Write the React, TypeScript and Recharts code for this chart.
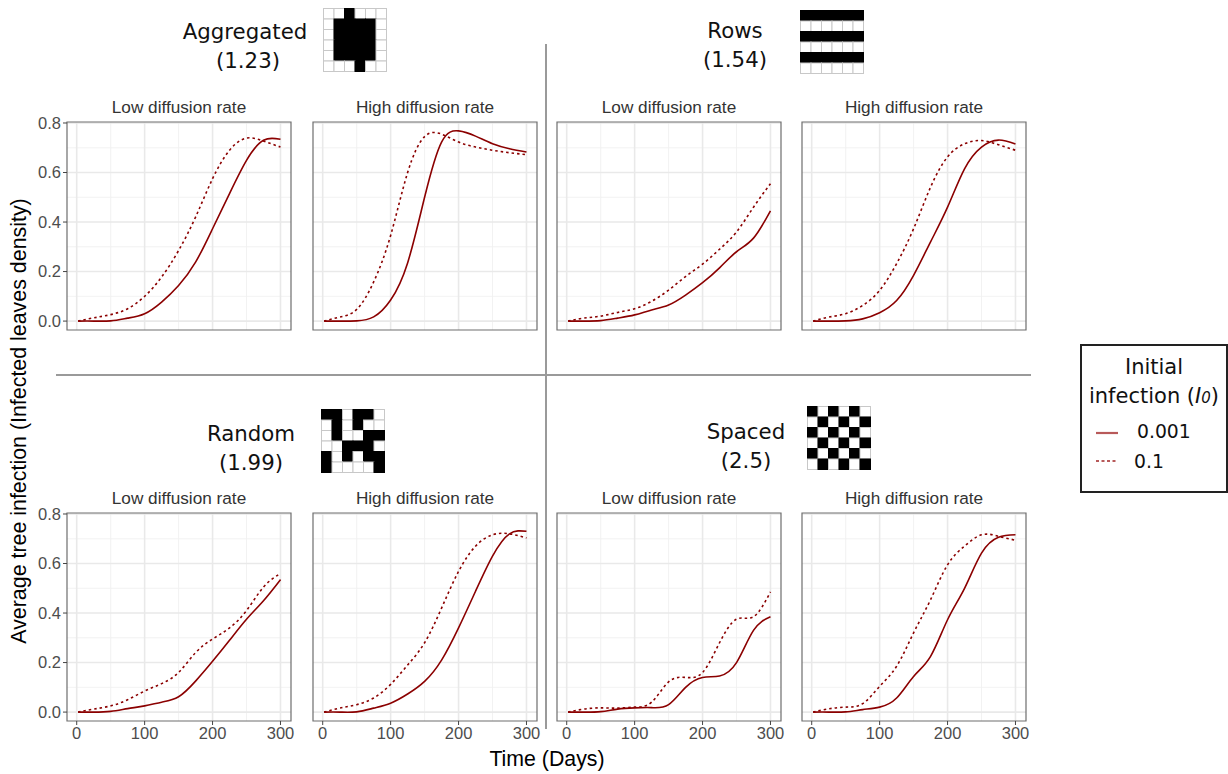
import { CartesianGrid, Line, LineChart, ReferenceArea, XAxis, YAxis } from 'recharts'

const days = [2, 25, 50, 75, 100, 125, 150, 175, 200, 225, 250, 275, 300]
const xTicks = [0, 100, 200, 300]
const yTicks = [0, 0.2, 0.4, 0.6, 0.8]
const xMinor = [50, 150, 250]
const yMinor = [0.1, 0.3, 0.5, 0.7]

const aggLowSolid = [0, 0, 0.001, 0.012, 0.03, 0.077, 0.144, 0.238, 0.373, 0.515, 0.649, 0.73, 0.734]
const aggLowDash = [0, 0.013, 0.026, 0.05, 0.1, 0.178, 0.285, 0.42, 0.575, 0.69, 0.739, 0.727, 0.703]
const aggHighSolid = [0, 0, 0.001, 0.017, 0.085, 0.235, 0.5, 0.723, 0.768, 0.747, 0.716, 0.696, 0.683]
const aggHighDash = [0, 0.016, 0.047, 0.158, 0.346, 0.6, 0.745, 0.755, 0.723, 0.703, 0.69, 0.68, 0.672]

const rowsLowSolid = [0, 0, 0.002, 0.012, 0.025, 0.045, 0.065, 0.105, 0.155, 0.215, 0.28, 0.335, 0.445]
const rowsLowDash = [0, 0.012, 0.02, 0.035, 0.05, 0.08, 0.125, 0.18, 0.23, 0.29, 0.36, 0.46, 0.555]
const rowsHighSolid = [0, 0, 0.001, 0.009, 0.034, 0.083, 0.185, 0.32, 0.46, 0.615, 0.703, 0.731, 0.715]
const rowsHighDash = [0, 0.016, 0.03, 0.063, 0.124, 0.232, 0.373, 0.541, 0.663, 0.716, 0.729, 0.712, 0.69]

const randLowSolid = [0, 0, 0.003, 0.014, 0.025, 0.04, 0.062, 0.125, 0.205, 0.29, 0.375, 0.45, 0.535]
const randLowDash = [0, 0.012, 0.025, 0.05, 0.085, 0.115, 0.16, 0.24, 0.295, 0.34, 0.41, 0.505, 0.56]
const randHighSolid = [0, 0, 0.001, 0.016, 0.036, 0.073, 0.124, 0.21, 0.34, 0.488, 0.63, 0.72, 0.73]
const randHighDash = [0, 0.016, 0.03, 0.057, 0.112, 0.19, 0.28, 0.42, 0.568, 0.67, 0.716, 0.72, 0.703]

const spacedLowSolid = [0, 0, 0.002, 0.012, 0.017, 0.018, 0.03, 0.1, 0.14, 0.146, 0.2, 0.33, 0.385]
const spacedLowDash = [0, 0.012, 0.017, 0.016, 0.02, 0.04, 0.122, 0.14, 0.16, 0.28, 0.375, 0.385, 0.485]
const spacedHighSolid = [0, 0, 0.001, 0.01, 0.02, 0.057, 0.144, 0.225, 0.373, 0.5, 0.642, 0.706, 0.716]
const spacedHighDash = [0, 0.013, 0.02, 0.034, 0.104, 0.185, 0.32, 0.454, 0.595, 0.67, 0.716, 0.71, 0.694]

const aggPattern = ['001000', '011110', '011110', '011110', '011110', '000100']
const rowsPattern = ['111111', '000000', '111111', '000000', '111111', '000000']
const randPattern = ['110110', '010100', '010011', '001110', '101011', '100001']
const spacedPattern = ['101010', '010101', '101010', '010101', '101010', '010101']

const DARK_RED = '#8b0000'
const SANS = '"Liberation Sans", Arial, sans-serif'
const DEJAVU = '"DejaVu Sans", sans-serif'
const PW = 224
const PH = 208
const ML = 44
const MT = 12
const MB = 34

const xDomain = [-14.3, 315.5]
const yDomain = [-0.036, 0.804]

function Panel({ left, top, title, solid, dash, showX, showY }: {
  left: number
  top: number
  title: string
  solid: number[]
  dash: number[]
  showX: boolean
  showY: boolean
}) {
  const data = days.map((d, i) => ({ day: d, solid: solid[i], dash: dash[i] }))
  return (
    <>
      <div style={{ position: 'absolute', left, top: top - 24, width: PW, textAlign: 'center', fontFamily: SANS, fontSize: 17.2, lineHeight: '19px', color: '#333', whiteSpace: 'nowrap' }}>
        {title}
      </div>
      <div style={{ position: 'absolute', left: left - ML, top: top - MT }}>
        <LineChart
          width={PW + ML + 12}
          height={PH + MT + MB}
          data={data}
          margin={{ top: MT, right: 12, bottom: showX ? 0 : MB, left: showY ? 0 : ML }}
        >
          <CartesianGrid verticalValues={xMinor} horizontalValues={yMinor} stroke="#f0f0f0" strokeWidth={0.9} />
          <CartesianGrid verticalValues={xTicks} horizontalValues={yTicks} stroke="#e9e9e9" strokeWidth={1.6} />
          <XAxis
            dataKey="day"
            type="number"
            domain={xDomain}
            ticks={xTicks}
            interval={0}
            allowDataOverflow
            hide={!showX}
            height={MB}
            axisLine={false}
            tickSize={4}
            tickLine={{ stroke: '#444' }}
            tick={{ fontFamily: SANS, fontSize: 16.5, fill: '#4d4d4d' }}
          />
          <YAxis
            type="number"
            domain={yDomain}
            ticks={yTicks}
            interval={0}
            allowDataOverflow
            hide={!showY}
            width={ML}
            axisLine={false}
            tickSize={4}
            tickLine={{ stroke: '#444' }}
            tickFormatter={(v: number) => v.toFixed(1)}
            tick={{ fontFamily: SANS, fontSize: 16.5, fill: '#4d4d4d' }}
          />
          <ReferenceArea
            x1={xDomain[0]}
            x2={xDomain[1]}
            y1={yDomain[0]}
            y2={yDomain[1]}
            fill="none"
            stroke="#6e6e6e"
            strokeWidth={1.2}
            fillOpacity={0}
          />
          <Line dataKey="dash" type="natural" stroke={DARK_RED} strokeWidth={1.6} strokeDasharray="2.5 3" dot={false} isAnimationActive={false} />
          <Line dataKey="solid" type="natural" stroke={DARK_RED} strokeWidth={1.6} dot={false} isAnimationActive={false} />
        </LineChart>
      </div>
    </>
  )
}

function Pattern({ left, top, cells }: { left: number; top: number; cells: string[] }) {
  return (
    <svg style={{ position: 'absolute', left, top }} width={65} height={65}>
      {cells.map((row, r) =>
        row.split('').map((c, k) => (
          <rect
            key={`${r}-${k}`}
            x={0.5 + k * 10.5}
            y={0.5 + r * 10.5}
            width={10.5}
            height={10.5}
            fill={c === '1' ? '#000' : '#fff'}
            stroke={c === '1' ? '#000' : '#c8c8c8'}
            strokeWidth={1}
          />
        )),
      )}
    </svg>
  )
}

function Heading({ cx, top, name, value, shift = 0 }: { cx: number; top: number; name: string; value: string; shift?: number }) {
  return (
    <div style={{ position: 'absolute', left: cx - 100, top, width: 200, textAlign: 'center', fontFamily: DEJAVU, fontSize: 21.3, lineHeight: '29px', color: '#111' }}>
      {name}
      <br />
      <span style={{ position: 'relative', left: shift }}>{value}</span>
    </div>
  )
}

const LOW = 'Low diffusion rate'
const HIGH = 'High diffusion rate'

export default function App() {
  return (
    <div style={{ position: 'absolute', left: 0, top: 0, width: 1228, height: 774, background: '#fff', overflow: 'hidden' }}>
      <Heading cx={245} top={17} name="Aggregated" value="(1.23)" shift={3} />
      <Heading cx={735} top={16} name="Rows" value="(1.54)" />
      <Heading cx={251} top={419} name="Random" value="(1.99)" />
      <Heading cx={746} top={417} name="Spaced" value="(2.5)" />
      <Pattern left={323} top={8} cells={aggPattern} />
      <Pattern left={800} top={10} cells={rowsPattern} />
      <Pattern left={321} top={409} cells={randPattern} />
      <Pattern left={807} top={406} cells={spacedPattern} />

      <Panel left={67} top={122} title={LOW} solid={aggLowSolid} dash={aggLowDash} showX={false} showY />
      <Panel left={313} top={122} title={HIGH} solid={aggHighSolid} dash={aggHighDash} showX={false} showY={false} />
      <Panel left={557} top={122} title={LOW} solid={rowsLowSolid} dash={rowsLowDash} showX={false} showY={false} />
      <Panel left={802} top={122} title={HIGH} solid={rowsHighSolid} dash={rowsHighDash} showX={false} showY={false} />
      <Panel left={67} top={513} title={LOW} solid={randLowSolid} dash={randLowDash} showX showY />
      <Panel left={313} top={513} title={HIGH} solid={randHighSolid} dash={randHighDash} showX showY={false} />
      <Panel left={557} top={513} title={LOW} solid={spacedLowSolid} dash={spacedLowDash} showX showY={false} />
      <Panel left={802} top={513} title={HIGH} solid={spacedHighSolid} dash={spacedHighDash} showX showY={false} />

      <div style={{ position: 'absolute', left: 545, top: 44, width: 2, height: 685, background: '#9a9a9a' }} />
      <div style={{ position: 'absolute', left: 56, top: 374, width: 975, height: 2, background: '#9a9a9a' }} />

      <div style={{ position: 'absolute', left: 19, top: 421, width: 0, height: 0 }}>
        <div style={{ position: 'absolute', width: 500, left: -250, top: -12, textAlign: 'center', transform: 'rotate(-90deg)', fontFamily: SANS, fontSize: 21.4, lineHeight: '24px', color: '#000', whiteSpace: 'nowrap' }}>
          Average tree infection (Infected leaves density)
        </div>
      </div>
      <div style={{ position: 'absolute', left: 447, top: 747, width: 200, textAlign: 'center', fontFamily: SANS, fontSize: 21.3, lineHeight: '24px', color: '#000' }}>
        Time (Days)
      </div>

      <div style={{ position: 'absolute', left: 1080, top: 344, width: 144, height: 145, border: '2px solid #222', background: '#fff', fontFamily: DEJAVU, fontSize: 21, color: '#111' }}>
        <div style={{ position: 'absolute', top: 9, width: '100%', textAlign: 'center' }}>Initial</div>
        <div style={{ position: 'absolute', top: 38, width: '100%', textAlign: 'center', whiteSpace: 'nowrap' }}>
          infection (<i>I</i><i style={{ fontSize: 15 }}>0</i>)
        </div>
        <svg style={{ position: 'absolute', left: 14, top: 80 }} width={24} height={40}>
          <line x1={0} x2={22} y1={7} y2={7} stroke="#b85a5a" strokeWidth={2.2} />
          <line x1={0} x2={22} y1={35} y2={35} stroke="#b85a5a" strokeWidth={2.2} strokeDasharray="3 2.5" />
        </svg>
        <div style={{ position: 'absolute', left: 55, top: 75, fontSize: 18.8 }}>0.001</div>
        <div style={{ position: 'absolute', left: 52, top: 105, fontSize: 18.8 }}>0.1</div>
      </div>
    </div>
  )
}
